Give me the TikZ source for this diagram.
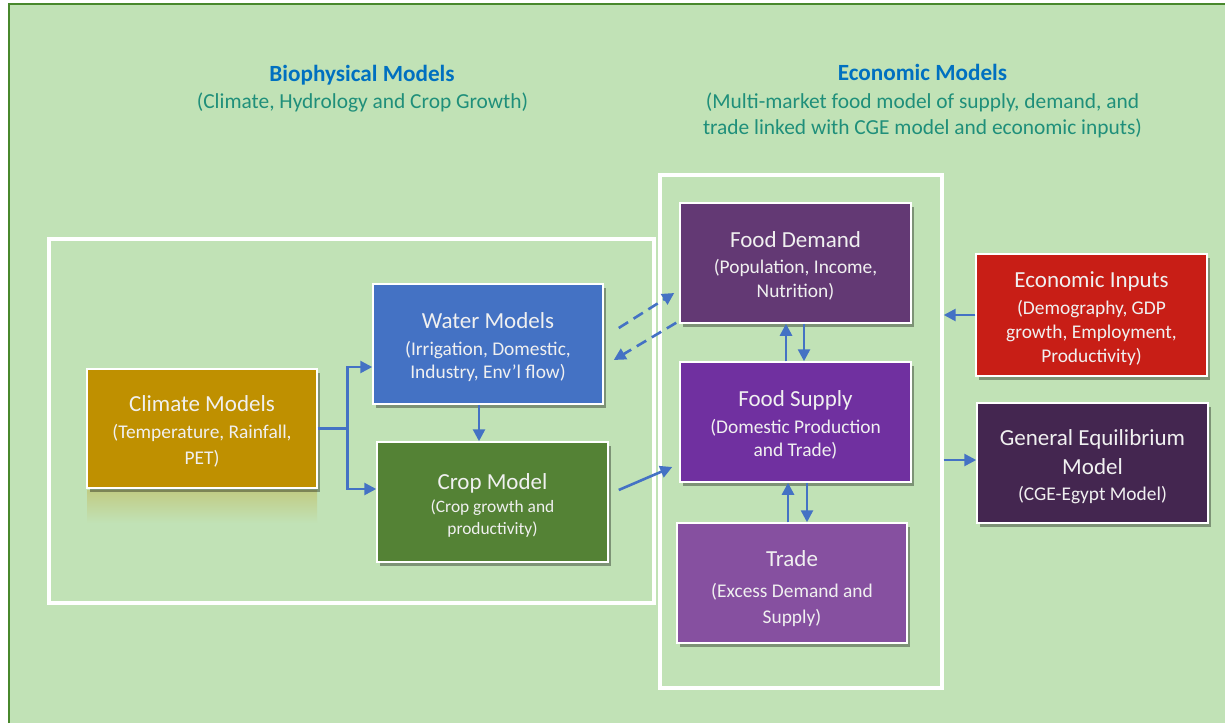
\documentclass[tikz,border=0pt]{standalone}
\usepackage{fontspec}
\setmainfont{Carlito}
\usetikzlibrary{arrows.meta,shadows,calc}

\definecolor{bg}{RGB}{193,226,182}
\definecolor{edgegreen}{RGB}{72,136,44}
\definecolor{link}{RGB}{68,114,196}
\definecolor{headblue}{RGB}{0,112,192}
\definecolor{headteal}{RGB}{31,143,122}
\definecolor{climc}{RGB}{191,144,0}
\definecolor{waterc}{RGB}{68,114,196}
\definecolor{cropc}{RGB}{84,130,53}
\definecolor{demandc}{RGB}{99,57,116}
\definecolor{supplyc}{RGB}{112,48,160}
\definecolor{tradec}{RGB}{134,80,160}
\definecolor{inputc}{RGB}{200,30,22}
\definecolor{gec}{RGB}{68,38,80}

% box title line; the invisible rule sets the head room above the title
\newcommand{\boxtitle}[2][22.5pt]{{\fontsize{23}{27}\selectfont\rule{0pt}{#1}#2}}

\begin{document}
\begin{tikzpicture}[x=1pt,y=-1pt,
  modelbox/.style={draw=white, line width=1.5pt, minimum width=230pt,
    minimum height=120pt, inner sep=0pt, align=center, text=white!94!black,
    drop shadow={shadow xshift=3pt, shadow yshift=-3.5pt, opacity=0.35, fill=black}},
  groupframe/.style={draw=white, line width=4pt, inner sep=0pt},
  flow/.style={draw=link, line width=2.6pt, -{Triangle[length=12pt,width=12pt]}},
  dashedflow/.style={flow, dash pattern=on 11pt off 6.5pt},
  heading/.style={text=headblue, font=\bfseries\fontsize{23.2}{26}\selectfont},
  subheading/.style={text=headteal, font=\fontsize{21.4}{26}\selectfont, align=center},
]
\useasboundingbox (0,0) rectangle (1225,723);

% page background and outer border
\fill[white] (0,0) rectangle (1225,723);
\fill[bg] (9,4) rectangle (1225,723);
\draw[edgegreen, line width=2.5pt] (9,723) -- (9,4) -- (1225,4);

% headings (base anchor of a two-line node is its last line)
\node[heading, anchor=base] (biohead) at (362,81) {Biophysical Models};
\node[subheading, anchor=base] (biosub) at (362.5,108) {(Climate, Hydrology and Crop Growth)};
\node[heading, anchor=base] (econhead) at (922.5,80) {Economic Models};
\node[subheading, anchor=base] (econsub) at (922.5,134)
  {(Multi-market food model of supply, demand, and\\trade linked with CGE model and economic inputs)};

% group frames
\node[groupframe, minimum width=604.8pt, minimum height=364.3pt] (bioframe) at (351.1,420.9) {};
\node[groupframe, minimum width=282.2pt, minimum height=513.3pt] (econframe) at (800.6,431.7) {};

% faded reflection under the climate box
\shade[top color=climc!28!bg, bottom color=bg] (87,490) rectangle (317,523);

% model boxes
\node[modelbox, fill=climc, minimum height=119pt, font=\fontsize{19.4}{26.5}\selectfont]
  (climate) at (202,428.5) {\boxtitle{Climate Models}\\(Temperature, Rainfall,\\PET)};
\node[modelbox, fill=waterc, font=\fontsize{19.4}{23}\selectfont]
  (water) at (488,344) {\boxtitle{Water Models}\\[4pt](Irrigation, Domestic,\\Industry, Env'l flow)};
\node[modelbox, fill=cropc, minimum width=231pt, font=\fontsize{17.4}{22}\selectfont]
  (crop) at (492.5,502) {\boxtitle{Crop Model}\\[1pt](Crop growth and\\productivity)};
\node[modelbox, fill=demandc, minimum width=231pt, font=\fontsize{19.4}{24}\selectfont]
  (demand) at (795.5,263) {\boxtitle{Food Demand}\\[2pt](Population, Income,\\Nutrition)};
\node[modelbox, fill=supplyc, minimum width=231pt, font=\fontsize{19.4}{23}\selectfont]
  (supply) at (795.5,422) {\boxtitle{Food Supply}\\[4pt](Domestic Production\\and Trade)};
\node[modelbox, fill=tradec, font=\fontsize{19.4}{26}\selectfont]
  (trade) at (792,583) {\boxtitle[26.5pt]{Trade}\\[5pt](Excess Demand and\\Supply)};
\node[modelbox, fill=inputc, minimum width=231pt, minimum height=122pt, font=\fontsize{19.4}{24}\selectfont]
  (inputs) at (1091.5,315) {\boxtitle{Economic Inputs}\\[3pt](Demography, GDP\\growth, Employment,\\Productivity)};
\node[modelbox, fill=gec, minimum width=231pt, font=\fontsize{19.4}{26}\selectfont]
  (ge) at (1092.5,463) {\boxtitle{General Equilibrium}\\[3pt]\boxtitle[0pt]{Model}\\(CGE-Egypt Model)};

% climate output splits to water and crop models
\draw[flow] (climate.east) -- ++(30,0) |- ([yshift=-23pt]water.west);
\draw[flow] (climate.east) -- ++(30,0) |- ([yshift=13pt]crop.west);

% water feeds crop
\coordinate (wcout) at ([xshift=-9pt]water.south);
\draw[flow] (wcout) -- (wcout |- crop.north);

% water <-> food demand (dashed)
\draw[dashedflow] ([xshift=15pt,yshift=16pt]water.east) -- ([xshift=-5pt,yshift=-30pt]demand.west);
\draw[dashedflow] ([xshift=-3pt,yshift=1pt]demand.south west) -- ([xshift=10pt,yshift=-16pt]water.east);

% crop feeds food supply
\draw[flow] ([xshift=10pt,yshift=12pt]crop.east) -- ([xshift=-7pt,yshift=-45pt]supply.west);

% demand <-> supply
\draw[flow] ([xshift=-9.5pt]supply.north) -- ([xshift=-9.5pt]demand.south);
\draw[flow] ([xshift=8.5pt]demand.south) -- ([xshift=8.5pt]supply.north);

% supply <-> trade
\coordinate (stup) at ([xshift=-7.5pt]supply.south);
\coordinate (stdown) at ([xshift=11.5pt]supply.south);
\draw[flow] (stup |- trade.north) -- (stup);
\draw[flow] (stdown) -- (stdown |- trade.north);

% economic inputs and general equilibrium links
\draw[flow] (inputs.west) -- (inputs.west -| econframe.east);
\coordinate (geport) at ([yshift=3pt]ge.west);
\draw[flow] (econframe.east |- geport) -- (geport);

\end{tikzpicture}
\end{document}
